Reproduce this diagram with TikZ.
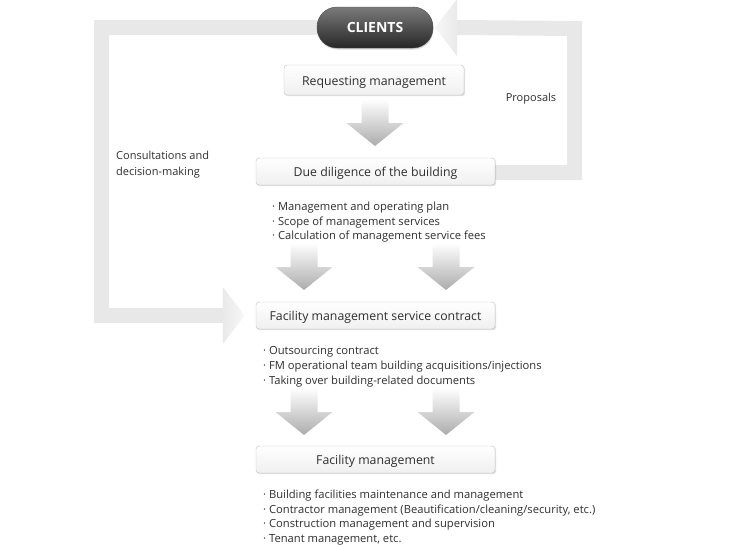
\documentclass[tikz,border=0pt]{standalone}
\usepackage{fontspec}
\setmainfont{Open Sans}
\usetikzlibrary{positioning,shadows,backgrounds}
\definecolor{bandgray}{HTML}{E8E8E8}
\definecolor{txtgray}{HTML}{2E2E2E}
\tikzset{
  stepbox/.style={draw=gray!50, rounded corners=3pt, top color=white, bottom color=gray!12,
    minimum width=239pt, minimum height=27pt, text=txtgray, font=\fontsize{12.3}{14}\selectfont,
    text height=10pt, text depth=0pt,
    drop shadow={opacity=0.25, shadow xshift=1pt, shadow yshift=-1.2pt}},
  pill/.style={draw=black!70, rounded corners=20pt, top color=black!52, bottom color=black!85,
    minimum width=116pt, minimum height=41pt, text=white, font=\fontsize{14}{16}\selectfont\bfseries,
    drop shadow={opacity=0.3, shadow xshift=0.5pt, shadow yshift=-1.5pt}},
  band/.style={line width=15pt, draw=bandgray},
  note/.style={anchor=north west, align=left, inner sep=0pt, text=txtgray, font=\fontsize{11.2}{14.8}\selectfont},
  fatarrow/.pic={\shade[top color=white, bottom color=gray!65]
    (-13.5,0)--(13.5,0)--(13.5,24)--(28.5,24)--(0,47)--(-28.5,24)--(-13.5,24)--cycle;}
}
\begin{document}
\begin{tikzpicture}[x=1pt,y=-1pt]
\useasboundingbox (0,0) rectangle (750,544);
%boxes
\node[pill] (clients) at (375,27.5) {CLIENTS};
\node[stepbox, minimum width=180pt, minimum height=30pt] (req) at (374,80) {Requesting management};
\node[stepbox] (dd) at (375.5,171.5) {Due diligence of the building};
\node[stepbox] (contract) at (375.5,315.5) {Facility management service contract};
\node[stepbox] (fm) at (375.5,459.5) {Facility management};
%notes
\node[font=\fontsize{11}{14}\selectfont, text=txtgray] (prop) at (531,99) {Proposals};
\node[note, font=\fontsize{11}{16}\selectfont] (consult) at (116,151) {Consultations and\\decision-making};
\node[note] (ddnote) at (272,201.5) {· Management and operating plan\\· Scope of management services\\· Calculation of management service fees};
\node[note] (ctnote) at (263,346) {· Outsourcing contract\\· FM operational team building acquisitions/injections\\· Taking over building-related documents};
\node[note] (fmnote) at (263,489.5) {· Building facilities maintenance and management\\· Contractor management (Beautification/cleaning/security, etc.)\\· Construction management and supervision\\· Tenant management, etc.};
%loops
\coordinate (lhead) at ([xshift=-33pt]contract.west);
\coordinate (rhead) at ([xshift=82pt]clients.center);
\begin{pgfonlayer}{background}
\draw[band] (clients.center) -| (101,315.5) -- (lhead);
\draw[band] ([shift={(-3,1)}]dd.east) -| (574.5,28.5) -- (rhead);
\shade[left color=gray!17, right color=gray!6] (lhead) ++(0,-28.5) -- ++(22,28.5) -- ++(-22,28.5) -- cycle;
\shade[right color=gray!17, left color=gray!6] (rhead) ++(0,-28.5) -- ++(-22,28.5) -- ++(22,28.5) -- cycle;
\end{pgfonlayer}
%arrows
\foreach \x/\y in {375/99,304/243,446/243,304/388,446/388}{\pic at (\x,\y) {fatarrow};}
\end{tikzpicture}
\end{document}
